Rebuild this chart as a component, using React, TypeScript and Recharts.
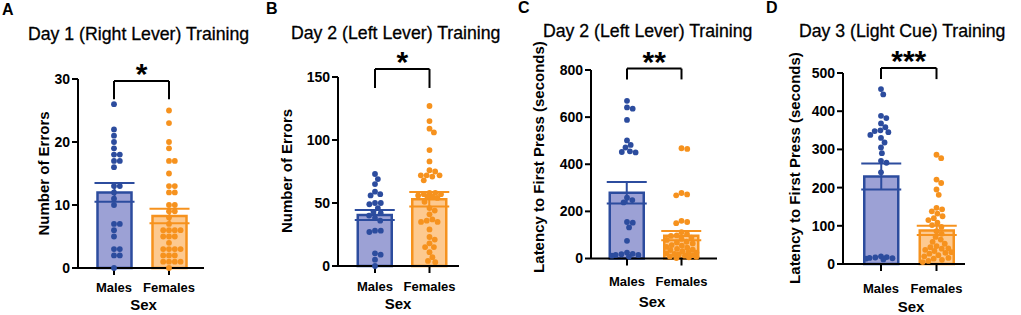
import {
  ComposedChart,
  Bar,
  Scatter,
  XAxis,
  YAxis,
  ErrorBar,
  ReferenceLine,
} from "recharts";

const FONT = "'Liberation Sans', Arial, sans-serif";
const MALE = "#2c4c9e";
const MALE_FILL = "#9ca1d5";
const FEMALE = "#f6921e";
const FEMALE_FILL = "#fdc98f";
const DOT_R = 2.9;
const BAR_SIZE = 34;

const categories = ["Males", "Females"];

// A: Day 1 (Right Lever) – number of errors
const day1Males = [26, 22, 21, 20, 19, 18, 18, 17, 17, 16, 13, 13, 12, 11, 10, 7, 7, 6, 5, 3, 3, 2, 2, 0];
const day1Females = [25, 23, 20, 19, 17, 17, 15, 13, 13, 12, 12, 10, 10, 9, 9, 8, 7, 6, 6, 6, 6, 5, 5, 5, 4, 3, 3, 3, 3, 2, 2, 2, 1, 1, 1, 1, 0];
const day1Mean = [12.0, 8.25];
const day1Sem = [1.5, 1.15];
const day1Ticks = [0, 10, 20, 30];
const day1Bracket = [29.7, 26.8];

// B: Day 2 (Left Lever) – number of errors
const day2ErrMales = [73, 69, 65, 59, 57, 56, 50, 50, 49, 46, 43, 42, 40, 38, 36, 28, 28, 27, 10, 9, 5, 0];
const day2ErrFemales = [127, 115, 109, 106, 92, 83, 76, 75, 72, 72, 72, 71, 68, 58, 58, 57, 57, 56, 55, 55, 54, 51, 46, 44, 41, 37, 36, 35, 35, 29, 23, 21, 18, 15, 15, 11, 7, 4, 3];
const day2ErrMean = [40.5, 53.0];
const day2ErrSem = [4.0, 5.8];
const day2ErrTicks = [0, 50, 100, 150];
const day2ErrBracket = [156.3, 141.3];

// C: Day 2 (Left Lever) – latency to first press
const day2LatMales = [669, 641, 636, 588, 501, 482, 471, 455, 452, 450, 258, 248, 238, 155, 152, 132, 75, 25, 20, 18, 15, 15, 12, 8];
const day2LatFemales = [468, 465, 278, 272, 268, 160, 155, 150, 112, 104, 98, 96, 88, 83, 79, 71, 68, 64, 57, 55, 49, 46, 41, 38, 36, 31, 27, 25, 22, 19, 17, 14, 12, 9, 7, 5, 2];
const day2LatMean = [279, 97];
const day2LatSem = [46, 20];
const day2LatTicks = [0, 200, 400, 600, 800];
const day2LatBracket = [806, 760];

// D: Day 3 (Light Cue) – latency to first press
const day3LatMales = [458, 444, 388, 382, 368, 358, 350, 348, 345, 338, 330, 318, 305, 290, 270, 265, 240, 20, 18, 17, 15, 14, 12, 16];
const day3LatFemales = [286, 277, 221, 212, 195, 181, 147, 143, 138, 132, 125, 120, 115, 108, 102, 97, 86, 79, 71, 64, 58, 53, 47, 44, 41, 40, 37, 34, 31, 29, 27, 23, 20, 16, 14, 11, 8, 5];
const day3LatMean = [229, 88];
const day3LatSem = [34, 12];
const day3LatTicks = [0, 100, 200, 300, 400, 500];
const day3LatBracket = [513, 484];

type PanelCfg = {
  letter: string;
  title: string;
  yLabel: string;
  stars: string;
  males: number[];
  females: number[];
  mean: number[];
  sem: number[];
  ticks: number[];
  bracket: number[];
  // layout
  left: number;
  width: number;
  axisX: number;
  axisRight: number;
  top: number;
  zero: number;
  centers: number[];
  tickBaseline: number;
  letterPos: number[];
  titlePos: number[];
  yLabelPos: number[];
  sexPos: number[];
};

const panels: PanelCfg[] = [
  {
    letter: "A", title: "Day 1 (Right Lever) Training", yLabel: "Number of Errors", stars: "*",
    males: day1Males, females: day1Females, mean: day1Mean, sem: day1Sem, ticks: day1Ticks, bracket: day1Bracket,
    left: 0, width: 260, axisX: 78, axisRight: 204, top: 79, zero: 268, centers: [114, 169],
    tickBaseline: 291.5, letterPos: [2, 15], titlePos: [28, 40], yLabelPos: [43.5, 173.5], sexPos: [143.5, 310],
  },
  {
    letter: "B", title: "Day 2 (Left Lever) Training", yLabel: "Number of Errors", stars: "*",
    males: day2ErrMales, females: day2ErrFemales, mean: day2ErrMean, sem: day2ErrSem, ticks: day2ErrTicks, bracket: day2ErrBracket,
    left: 260, width: 260, axisX: 338, axisRight: 459, top: 77, zero: 266, centers: [375, 429.5],
    tickBaseline: 291, letterPos: [266, 14], titlePos: [291, 39], yLabelPos: [286, 171], sexPos: [398, 309],
  },
  {
    letter: "C", title: "Day 2 (Left Lever) Training", yLabel: "Latency to First Press (seconds)", stars: "**",
    males: day2LatMales, females: day2LatFemales, mean: day2LatMean, sem: day2LatSem, ticks: day2LatTicks, bracket: day2LatBracket,
    left: 520, width: 250, axisX: 591, axisRight: 717, top: 70, zero: 258.5, centers: [627, 681.5],
    tickBaseline: 285.5, letterPos: [518, 13], titlePos: [543, 37], yLabelPos: [538, 157], sexPos: [652, 307],
  },
  {
    letter: "D", title: "Day 3 (Light Cue) Training", yLabel: "Latency to First Press (seconds)", stars: "***",
    males: day3LatMales, females: day3LatFemales, mean: day3LatMean, sem: day3LatSem, ticks: day3LatTicks, bracket: day3LatBracket,
    left: 770, width: 251, axisX: 843, axisRight: 965, top: 73, zero: 264, centers: [881, 936.5],
    tickBaseline: 293, letterPos: [766, 13], titlePos: [799, 37], yLabelPos: [794, 168], sexPos: [911, 312],
  },
];

// beeswarm: push each dot sideways until it clears the others, but keep it inside the bar;
// when the bar is full, take the spot with the least overlap (like Prism does)
function swarmOffsets(values: number[], pxPerUnit: number, gap: number, limit: number) {
  const placed: { x: number; y: number }[] = [];
  const out: number[] = new Array(values.length).fill(0);
  const order = values.map((_, i) => i).sort((a, b) => values[b] - values[a]);
  order.forEach((i) => {
    const y = values[i] * pxPerUnit;
    const near = placed.filter((p) => Math.abs(p.y - y) < gap);
    const cands = [0];
    near.forEach((p) => {
      const h = Math.sqrt(gap * gap - (p.y - y) ** 2);
      cands.push(p.x + h, p.x - h);
    });
    cands.sort((a, b) => Math.abs(a) - Math.abs(b));
    let x = cands.find(
      (c) => Math.abs(c) <= limit && near.every((p) => (p.x - c) ** 2 + (p.y - y) ** 2 >= gap * gap - 0.01)
    );
    if (x === undefined) {
      let best = 0;
      let bestD = -1;
      for (let c = -limit; c <= limit; c += 0.5) {
        const d = Math.min(...near.map((p) => Math.hypot(p.x - c, p.y - y)));
        if (d > bestD + 0.01) {
          bestD = d;
          best = c;
        }
      }
      x = best;
    }
    placed.push({ x, y });
    out[i] = x;
  });
  return out;
}

function dotShape(color: string) {
  return (p: any) => (
    <circle cx={p.cx + (p.payload?.dx ?? 0)} cy={p.cy} r={DOT_R} fill={color} />
  );
}

function Stars(props: any) {
  const vb = props.viewBox || {};
  const x = vb.x1 != null ? (vb.x1 + vb.x2) / 2 : vb.x + (vb.width || 0) / 2;
  const y = vb.y1 != null ? Math.min(vb.y1, vb.y2) : vb.y;
  return (
    <text x={x} y={y + 3} textAnchor="middle" fontSize={30} fontWeight="bold" fontFamily={FONT} fill="#000">
      {props.text}
    </text>
  );
}

const axisStroke = { stroke: "#000", strokeWidth: 2 };
const xTickFont = { fill: "#000", fontSize: 13, fontWeight: "bold", fontFamily: FONT };
const yTickFont = { fill: "#000", fontSize: 14, fontWeight: "bold", fontFamily: FONT };

function Panel({ cfg }: { cfg: PanelCfg }) {
  const band = cfg.centers[1] - cfg.centers[0];
  const padL = cfg.centers[0] - band / 2 - cfg.axisX;
  const padR = cfg.axisRight - (cfg.centers[1] + band / 2);
  const yMax = cfg.ticks[cfg.ticks.length - 1];
  const ppu = (cfg.zero - cfg.top) / yMax;
  const xAxisH = 30;

  const barData = [
    { sex: categories[0], male: cfg.mean[0], maleSem: cfg.sem[0] },
    { sex: categories[1], female: cfg.mean[1], femaleSem: cfg.sem[1] },
  ];
  const toPoints = (vals: number[], sex: string) => {
    const dx = swarmOffsets(vals, ppu, DOT_R * 2, BAR_SIZE / 2 - DOT_R + 1);
    return vals.map((v, i) => ({ sex, v, dx: dx[i] }));
  };
  const malePts = toPoints(cfg.males, categories[0]);
  const femalePts = toPoints(cfg.females, categories[1]);
  const [bTop, bDrop] = cfg.bracket;

  return (
    <div style={{ position: "absolute", left: cfg.left, top: 0 }}>
      <ComposedChart
        width={cfg.width}
        height={315}
        data={barData}
        margin={{
          top: cfg.top,
          right: cfg.width - (cfg.axisRight - cfg.left),
          bottom: 315 - cfg.zero - xAxisH,
          left: 0,
        }}
      >
        <XAxis
          dataKey="sex"
          type="category"
          allowDuplicatedCategory={false}
          height={xAxisH}
          padding={{ left: padL, right: padR }}
          axisLine={axisStroke}
          tickLine={axisStroke}
          tickSize={7}
          tickMargin={cfg.tickBaseline - cfg.zero - 7 - 9.2}
          tick={xTickFont}
          interval={0}
        />
        <YAxis
          type="number"
          domain={[0, yMax]}
          ticks={cfg.ticks}
          interval={0}
          width={cfg.axisX - cfg.left}
          axisLine={axisStroke}
          tickLine={axisStroke}
          tickSize={6}
          tickMargin={2}
          tick={yTickFont}
        />
        <Bar dataKey="male" stackId="s" barSize={BAR_SIZE} fill={MALE_FILL} stroke={MALE} strokeWidth={2.5} isAnimationActive={false}>
          <ErrorBar dataKey="maleSem" width={20} stroke={MALE} strokeWidth={2} isAnimationActive={false} />
        </Bar>
        <Bar dataKey="female" stackId="s" barSize={BAR_SIZE} fill={FEMALE_FILL} stroke={FEMALE} strokeWidth={2.5} isAnimationActive={false}>
          <ErrorBar dataKey="femaleSem" width={20} stroke={FEMALE} strokeWidth={2} isAnimationActive={false} />
        </Bar>
        <Scatter data={malePts} dataKey="v" shape={dotShape(MALE)} isAnimationActive={false} />
        <Scatter data={femalePts} dataKey="v" shape={dotShape(FEMALE)} isAnimationActive={false} />
        <ReferenceLine
          segment={[{ x: categories[0], y: bTop }, { x: categories[1], y: bTop }]}
          stroke="#000"
          strokeWidth={2}
          ifOverflow="visible"
          label={<Stars text={cfg.stars} />}
        />
        <ReferenceLine
          segment={[{ x: categories[0], y: bTop }, { x: categories[0], y: bDrop }]}
          stroke="#000"
          strokeWidth={2}
          ifOverflow="visible"
        />
        <ReferenceLine
          segment={[{ x: categories[1], y: bTop }, { x: categories[1], y: bDrop }]}
          stroke="#000"
          strokeWidth={2}
          ifOverflow="visible"
        />
      </ComposedChart>
    </div>
  );
}

export default function App() {
  return (
    <div
      style={{
        position: "absolute",
        left: 0,
        top: 0,
        width: 1021,
        height: 315,
        background: "#fff",
        overflow: "hidden",
      }}
    >
      {panels.map((p) => (
        <Panel key={p.letter} cfg={p} />
      ))}
      <svg
        width={1021}
        height={315}
        style={{ position: "absolute", left: 0, top: 0, pointerEvents: "none" }}
        fontFamily={FONT}
      >
        {panels.map((p) => (
          <g key={p.letter}>
            <text x={p.letterPos[0]} y={p.letterPos[1]} fontSize={16} fontWeight="bold">
              {p.letter}
            </text>
            <text x={p.titlePos[0]} y={p.titlePos[1]} fontSize={17.7} stroke="#000" strokeWidth={0.3}>
              {p.title}
            </text>
            <text
              transform={`translate(${p.yLabelPos[0]},${p.yLabelPos[1]}) rotate(-90)`}
              textAnchor="middle"
              dominantBaseline="central"
              fontSize={15}
              fontWeight="bold"
            >
              {p.yLabel}
            </text>
            <text x={p.sexPos[0]} y={p.sexPos[1]} textAnchor="middle" fontSize={15} fontWeight="bold">
              Sex
            </text>
          </g>
        ))}
      </svg>
    </div>
  );
}
